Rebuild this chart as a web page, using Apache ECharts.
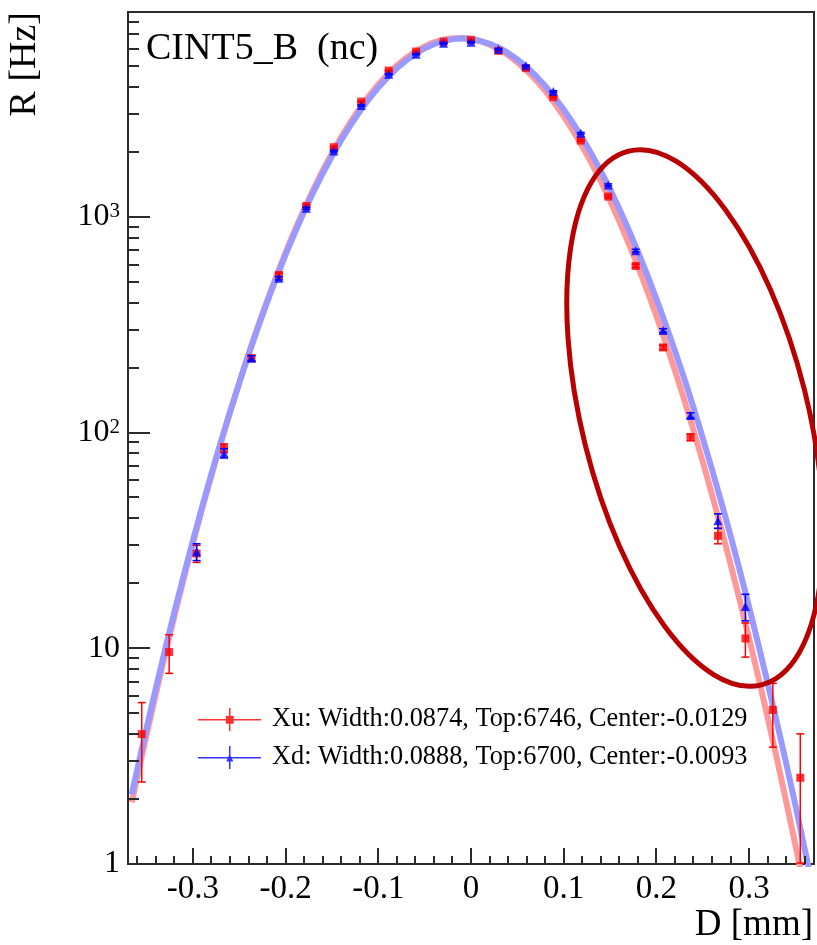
<!DOCTYPE html>
<html>
<head>
<meta charset="utf-8">
<script src="https://cdn.jsdelivr.net/npm/echarts@6/dist/echarts.min.js"></script>
<style>
  html, body { margin: 0; padding: 0; background: #fff; }
  #chart { width: 817px; height: 945px; }
</style>
</head>
<body>
<div id="chart"></div>
<script>
// 25 bins across -0.37 .. 0.37 mm
const binCenters = [-0.3552, -0.3256, -0.2960, -0.2664, -0.2368, -0.2072, -0.1776, -0.1480, -0.1184,
  -0.0888, -0.0592, -0.0296, 0, 0.0296, 0.0592, 0.0888, 0.1184, 0.1480, 0.1776, 0.2072, 0.2368,
  0.2664, 0.2960, 0.3256, 0.3552];

// Xu (red squares)
const xuRate = [4.0, 9.6, 27.5, 84.6, 221, 538, 1123, 2102, 3420, 4763, 5838, 6490, 6607,
  5875, 4888, 3584, 2256, 1241, 592, 248, 95.1, 33.2, 11.1, 5.18, 2.51];
const xuErr = [1.6, 1.95, 2.5, 4, 7, 11, 16, 22, 28, 33, 36, 38, 38, 36, 33, 28, 22, 16, 11, 6,
  3.5, 2.7, 2.0, 1.7, 1.5];

// Xd (blue triangles), no entries in the two outer bins on each side
const xdRate = [null, null, 28.0, 80.2, 221, 519, 1097, 2019, 3280, 4585, 5674, 6380, 6450,
  5985, 5010, 3810, 2439, 1406, 697, 297, 120, 39.0, 15.6, null, null];
const xdErr = [null, null, 2.5, 4, 6, 9, 13, 18, 24, 30, 35, 38, 38, 36, 33, 28, 22, 15, 10, 6,
  3.4, 3.0, 2.2, null, null];

// fitted curves
const fitX = [-0.366, -0.35, -0.33, -0.31, -0.29, -0.27, -0.25, -0.23, -0.21, -0.19, -0.17, -0.15,
  -0.13, -0.11, -0.09, -0.07, -0.05, -0.03, -0.01, 0.01, 0.03, 0.05, 0.07, 0.09, 0.11, 0.13, 0.15,
  0.17, 0.19, 0.21, 0.23, 0.25, 0.27, 0.29, 0.31, 0.33, 0.35, 0.37];
const xuFit = [1.93, 3.97, 9.35, 20.9, 44.3, 89.1, 170, 309, 530, 866, 1341, 1971, 2749, 3639,
  4572, 5449, 6165, 6619, 6742, 6519, 5980, 5207, 4303, 3373, 2510, 1772, 1188, 756, 456, 261,
  142, 73.2, 35.8, 16.6, 7.33, 3.07, 1.22, 0.46];
const xdFit = [2.10, 4.26, 9.86, 21.7, 45.3, 90.1, 170, 305, 521, 845, 1303, 1910, 2660, 3522,
  4433, 5304, 6032, 6520, 6700, 6544, 6075, 5361, 4497, 3586, 2717, 1958, 1341, 872, 540, 317,
  178, 94.3, 47.6, 22.9, 10.4, 4.53, 1.87, 0.73];

// axes
const xRange = [-0.37, 0.37];
const yRange = [1, 8900];
const yTickExp = [0, 1, 2, 3];
const xMajorTicks = [-0.3, -0.2, -0.1, 0, 0.1, 0.2, 0.3];
const xMinorTicks = [-0.36, -0.34, -0.32, -0.28, -0.26, -0.24, -0.22, -0.18, -0.16, -0.14, -0.12,
  -0.08, -0.06, -0.04, -0.02, 0.02, 0.04, 0.06, 0.08, 0.12, 0.14, 0.16, 0.18, 0.22, 0.24, 0.26, 0.28,
  0.32, 0.34, 0.36];
const yMajorTicks = [1, 10, 100, 1000];
const yMinorTicks = [2, 3, 4, 5, 6, 7, 8, 9, 20, 30, 40, 50, 60, 70, 80, 90,
  200, 300, 400, 500, 600, 700, 800, 900, 2000, 3000, 4000, 5000, 6000, 7000, 8000];

const xuName = 'Xu: Width:0.0874, Top:6746, Center:-0.0129';
const xdName = 'Xd: Width:0.0888, Top:6700, Center:-0.0093';

const serif = '"Liberation Serif", "DejaVu Serif", serif';
const frameColor = '#2b2b2b';

function points(rates, errs) {
  let out = [];
  binCenters.forEach((x, i) => {
    if (rates[i] != null) out.push([x, rates[i], errs[i]]);
  });
  return out;
}

function errorBars(color) {
  return function(params, api) {
    let x = api.value(0), v = api.value(1), e = api.value(2);
    let hi = api.coord([x, v + e]);
    let lo = api.coord([x, Math.max(v - e, yRange[0])]);
    let style = { stroke: color, lineWidth: 1.5 };
    return {
      type: 'group',
      children: [
        { type: 'line', shape: { x1: hi[0], y1: hi[1], x2: lo[0], y2: lo[1] }, style: style },
        { type: 'line', shape: { x1: hi[0] - 4, y1: hi[1], x2: hi[0] + 4, y2: hi[1] }, style: style },
        { type: 'line', shape: { x1: lo[0] - 4, y1: lo[1], x2: lo[0] + 4, y2: lo[1] }, style: style }
      ]
    };
  };
}

const xuIcon = 'path://M0 11L63 11L63 12.5L0 12.5Z M31 0L32.5 0L32.5 23L31 23Z M27.75 7.75L35.75 7.75L35.75 15.75L27.75 15.75Z';
const xdIcon = 'path://M0 11L63 11L63 12.5L0 12.5Z M31 0L32.5 0L32.5 23L31 23Z M28.25 15.5L31.75 8L35.25 15.5Z';

const chart = echarts.init(document.getElementById('chart'));

chart.setOption({
  animation: false,
  backgroundColor: '#fff',
  grid: {
    left: 128, right: 2, top: 12, bottom: 81,
    show: true, borderColor: frameColor, borderWidth: 2
  },
  xAxis: {
    type: 'value',
    min: xRange[0], max: xRange[1],
    axisLine: { show: true, onZero: false, lineStyle: { color: frameColor, width: 2 } },
    axisTick: { show: false },
    splitLine: { show: false },
    axisLabel: {
      margin: 9,
      fontFamily: serif, fontSize: 33, color: '#000',
      formatter: function(v) {
        if (Math.abs(v * 10 - Math.round(v * 10)) > 1e-6) return '';
        return String(Math.round(v * 10) / 10);
      }
    }
  },
  yAxis: {
    type: 'log',
    logBase: 10,
    min: yRange[0], max: yRange[1],
    axisLine: { show: true, onZero: false, lineStyle: { color: frameColor, width: 2 } },
    axisTick: { show: false },
    splitLine: { show: false },
    axisLabel: {
      margin: 8,
      color: '#000',
      formatter: function(v) {
        let e = Math.round(Math.log10(v));
        if (Math.abs(Math.log10(v) - e) > 1e-6 || yTickExp.indexOf(e) < 0) return '';
        if (e === 0) return '{b|1}';
        if (e === 1) return '{b|10}';
        return '{b|10}{s|' + e + '}';
      },
      rich: {
        b: { fontFamily: serif, fontSize: 32, color: '#000', lineHeight: 32 },
        s: { fontFamily: serif, fontSize: 21, color: '#000', verticalAlign: 'top', lineHeight: 22 }
      }
    }
  },
  legend: {
    orient: 'vertical',
    left: 193, top: 701.5,
    itemWidth: 63, itemHeight: 23, itemGap: 12,
    selectedMode: false,
    textStyle: { fontFamily: serif, fontSize: 26.3, color: '#000', padding: [0, 0, 0, 6] },
    data: [
      { name: xuName, icon: xuIcon },
      { name: xdName, icon: xdIcon }
    ]
  },
  series: [
    {
      type: 'line',
      name: 'fitXu',
      data: fitX.map((x, i) => [x, xuFit[i]]),
      showSymbol: false,
      smooth: 0.3,
      clip: true,
      lineStyle: { color: '#ff9999', width: 6 },
      z: 2
    },
    {
      type: 'line',
      name: 'fitXd',
      data: fitX.map((x, i) => [x, xdFit[i]]),
      showSymbol: false,
      smooth: 0.3,
      clip: true,
      lineStyle: { color: '#9999ff', width: 6 },
      z: 3
    },
    {
      type: 'custom',
      silent: true,
      clip: true,
      renderItem: errorBars('#ff0000'),
      data: points(xuRate, xuErr),
      z: 4
    },
    {
      type: 'scatter',
      name: xuName,
      symbol: 'rect',
      symbolSize: 8,
      itemStyle: { color: '#ff0000' },
      data: points(xuRate, xuErr).map(p => [p[0], p[1]]),
      z: 5
    },
    {
      type: 'custom',
      silent: true,
      clip: true,
      renderItem: errorBars('#0000ff'),
      data: points(xdRate, xdErr),
      z: 6
    },
    {
      type: 'scatter',
      name: xdName,
      symbol: 'triangle',
      symbolSize: 9,
      itemStyle: { color: '#0000ff' },
      data: points(xdRate, xdErr).map(p => [p[0], p[1]]),
      z: 7
    }
  ]
});

// ROOT style ticks inside the frame, placed through the chart's scales (snapped to whole pixels)
function px(x, y) {
  let p = chart.convertToPixel({ xAxisIndex: 0, yAxisIndex: 0 }, [x, y]);
  return [Math.round(p[0]), Math.round(p[1])];
}
function seg(x1, y1, x2, y2) {
  return {
    type: 'line', z: 50,
    shape: { x1: x1, y1: y1, x2: x2, y2: y2 },
    style: { stroke: frameColor, lineWidth: 2 }
  };
}

let elements = [];
xMajorTicks.forEach(x => { let p = px(x, yRange[0]); elements.push(seg(p[0], p[1], p[0], p[1] - 16)); });
xMinorTicks.forEach(x => { let p = px(x, yRange[0]); elements.push(seg(p[0], p[1], p[0], p[1] - 8)); });
yMajorTicks.forEach(v => { let p = px(xRange[0], v); elements.push(seg(p[0], p[1], p[0] + 22, p[1])); });
yMinorTicks.forEach(v => { let p = px(xRange[0], v); elements.push(seg(p[0], p[1], p[0] + 11, p[1])); });

elements.push(
  {
    type: 'text', x: 146, y: 30,
    style: { text: 'CINT5_B  (nc)', font: '38px ' + serif, fill: '#000', align: 'left', verticalAlign: 'top' }
  },
  {
    type: 'text', x: 25, y: 12, rotation: Math.PI / 2,
    style: { text: 'R [Hz]', font: '38px ' + serif, fill: '#000', align: 'right', verticalAlign: 'middle' }
  },
  {
    type: 'text', x: 813, y: 925,
    style: { text: 'D [mm]', font: '37px ' + serif, fill: '#000', align: 'right', verticalAlign: 'middle' }
  },
  {
    type: 'ellipse', x: 695, y: 418, rotation: 0.244,
    shape: { cx: 0, cy: 0, rx: 113, ry: 275 },
    style: { fill: 'none', stroke: '#b90000', lineWidth: 5 },
    z: 100
  }
);

chart.setOption({ graphic: { elements: elements } });
</script>
</body>
</html>
